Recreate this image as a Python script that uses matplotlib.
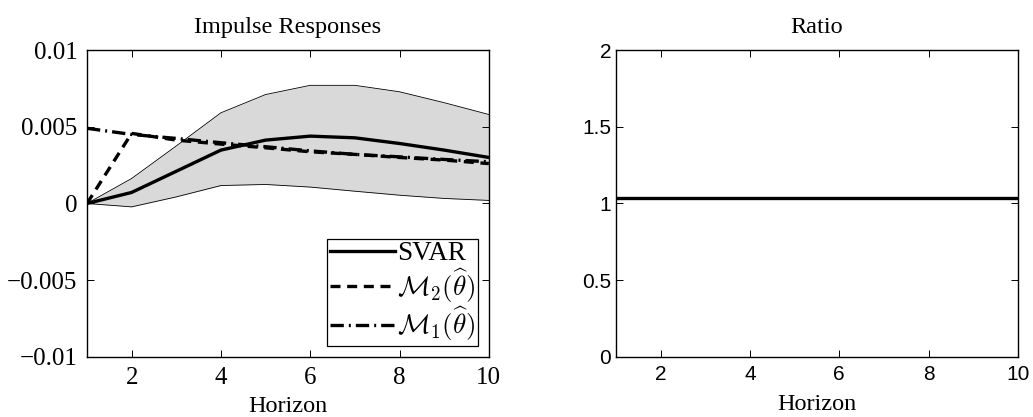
import numpy as np
import matplotlib
matplotlib.use("Agg")
import matplotlib.pyplot as plt

horizon = [1, 2, 3, 4, 5, 6, 7, 8, 9, 10]
band_upper = [0.0, 1.63e-3, 3.75e-3, 5.91e-3, 7.1e-3, 7.7e-3, 7.7e-3, 7.28e-3, 6.57e-3, 5.8e-3]
band_lower = [0.0, -0.22e-3, 0.43e-3, 1.17e-3, 1.24e-3, 1.07e-3, 0.8e-3, 0.54e-3, 0.33e-3, 0.2e-3]
svar = [0.0, 0.72e-3, 2.1e-3, 3.48e-3, 4.13e-3, 4.39e-3, 4.28e-3, 3.91e-3, 3.48e-3, 3.0e-3]
m2 = [0.0, 4.57e-3, 4.13e-3, 3.87e-3, 3.63e-3, 3.37e-3, 3.2e-3, 3.0e-3, 2.83e-3, 2.6e-3]
m1 = [4.9e-3, 4.5e-3, 4.24e-3, 3.96e-3, 3.7e-3, 3.43e-3, 3.2e-3, 3.04e-3, 2.87e-3, 2.72e-3]
ratio = [1.035] * 10

plt.rcParams['mathtext.fontset'] = 'cm'
serif = 'Liberation Serif'
sans = 'Liberation Sans'

fig = plt.figure(figsize=(10.33, 4.17), dpi=100)
ax1 = fig.add_axes([0.0842, 0.144, 0.389, 0.736])
ax2 = fig.add_axes([0.5963, 0.144, 0.389, 0.736])

ax1.fill_between(horizon, band_lower, band_upper, color='#d9d9d9', lw=0)
ax1.plot(horizon, band_upper, color='black', lw=0.6)
ax1.plot(horizon, band_lower, color='black', lw=0.6)
ax1.plot(horizon, svar, color='black', lw=2.4, label='SVAR')
ax1.plot(horizon, m2, color='black', lw=2.4, ls=(0, (3, 2)), label=r'$\mathcal{M}_2(\widehat{\theta})$')
ax1.plot(horizon, m1, color='black', lw=2.4, ls=(0, (4, 1.5, 0.6, 1.5)), label=r'$\mathcal{M}_1(\widehat{\theta})$')
ax1.set_xlim(1, 10)
ax1.set_ylim(-0.01, 0.01)
ax1.set_xticks([2, 4, 6, 8, 10])
ax1.set_yticks([-0.01, -0.005, 0, 0.005, 0.01])
ax1.set_yticklabels(['\u22120.01', '\u22120.005', '0', '0.005', '0.01'])
ax1.set_title('Impulse Responses', fontsize=17.5, family=serif, pad=12)
ax1.set_xlabel('Horizon', fontsize=17.5, family=serif, labelpad=5)
ax1.tick_params(axis='x', pad=7)
ax1.tick_params(axis='y', pad=7)
for lab in ax1.get_xticklabels() + ax1.get_yticklabels():
    lab.set_family(serif)
    lab.set_fontsize(18)
leg = ax1.legend(loc='lower right', fancybox=False, framealpha=1, edgecolor='black',
                 handlelength=2.4, borderaxespad=0.4, labelspacing=0.0,
                 handletextpad=0.1, borderpad=0.1, prop={'family': serif, 'size': 19.5})
leg.get_frame().set_linewidth(0.9)

ax2.plot(horizon, ratio, color='black', lw=2.4)
ax2.set_xlim(1, 10)
ax2.set_ylim(0, 2)
ax2.set_xticks([2, 4, 6, 8, 10])
ax2.set_yticks([0, 0.5, 1, 1.5, 2])
ax2.set_yticklabels(['0', '0.5', '1', '1.5', '2'])
ax2.set_title('Ratio', fontsize=17.5, family=serif, pad=12)
ax2.set_xlabel('Horizon', fontsize=17.5, family=serif, labelpad=7)
ax2.tick_params(axis='x', pad=6)
for lab in ax2.get_xticklabels() + ax2.get_yticklabels():
    lab.set_family(sans)
    lab.set_fontsize(15)

for ax in (ax1, ax2):
    ax.tick_params(direction='in', top=True, right=True, length=5, width=0.7)
    for s in ax.spines.values():
        s.set_linewidth(1.0)

fig.savefig('out.png', dpi=100)
